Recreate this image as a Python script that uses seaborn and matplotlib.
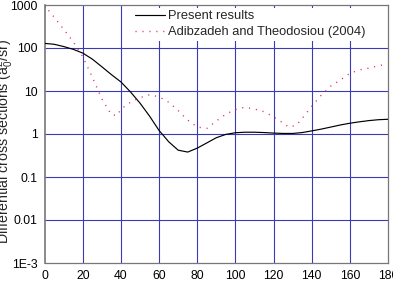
import matplotlib
matplotlib.use("Agg")
import matplotlib.pyplot as plt
import seaborn as sns
import numpy as np
import pandas as pd
from matplotlib.ticker import MultipleLocator, LogLocator, NullFormatter

# Data
present_angle = [0, 5, 10, 15, 20, 25, 30, 35, 40, 45, 50, 55, 60, 62, 65, 70, 75,
                 80, 85, 90, 95, 100, 105, 110, 115, 120, 125, 130, 135, 140, 145,
                 150, 155, 160, 165, 170, 175, 180]
present_dcs = [128, 122, 108, 93, 76, 55, 36.5, 24, 16.2, 9.5, 5.2, 2.6, 1.2, 0.95,
               0.66, 0.42, 0.38, 0.47, 0.62, 0.82, 0.98, 1.07, 1.1, 1.1, 1.08, 1.05,
               1.03, 1.03, 1.08, 1.18, 1.3, 1.45, 1.62, 1.78, 1.92, 2.05, 2.15, 2.2]

adib_angle = [2, 5, 10, 15, 20, 25, 30, 35, 38, 40, 45, 50, 55, 60, 65, 70, 75, 80,
              85, 90, 95, 100, 105, 110, 115, 120, 125, 128, 132, 135, 140, 145, 150,
              155, 160, 165, 170, 175, 178]
adib_dcs = [750, 520, 270, 140, 62, 21, 6.5, 2.8, 2.7, 3.8, 5.5, 7.0, 8.2, 7.3, 5.5,
            3.5, 2.1, 1.45, 1.35, 2.0, 2.9, 3.7, 4.2, 3.8, 3.3, 2.5, 1.8, 1.45, 1.6,
            2.3, 4.4, 8.0, 13, 18, 25.7, 31, 34, 38.6, 41]

xticks = [0, 20, 40, 60, 80, 100, 120, 140, 160, 180]
yticks = [1e-3, 1e-2, 1e-1, 1, 10, 100, 1000]
ytick_labels = ["1E-3", "0.01", "0.1", "1", "10", "100", "1000"]

label_present = "Present results"
label_adib = "Adibzadeh and Theodosiou (2004)"
ylabel = r"Differential cross sections (a$\mathregular{_0^2}$/sr)"

sns.set_style("white")
plt.rcParams['font.family'] = ['Liberation Sans', 'DejaVu Sans']
plt.rcParams['mathtext.fontset'] = 'custom'
plt.rcParams['mathtext.rm'] = 'Liberation Sans'

fig = plt.figure(figsize=(3.93, 2.91), dpi=100)
ax = fig.add_axes([44.7/393, 1-263/291, (388-44.7)/393, (263-5)/291])

df_p = pd.DataFrame({"angle": present_angle, "dcs": present_dcs})
df_a = pd.DataFrame({"angle": adib_angle, "dcs": adib_dcs})

sns.lineplot(data=df_p, x="angle", y="dcs", ax=ax, color="black", lw=0.85,
             label=label_present, zorder=4)
sns.lineplot(data=df_a, x="angle", y="dcs", ax=ax, color="#dd3355", lw=1.0,
             linestyle=(0, (0.8, 4.2)), label=label_adib, zorder=4)

ax.set_yscale("log")
ax.set_xlim(0, 180)
ax.set_ylim(1e-3, 1000)
ax.set_xticks(xticks)
ax.set_xticklabels([str(v) for v in xticks])
ax.xaxis.set_minor_locator(MultipleLocator(10))
ax.set_yticks(yticks)
ax.set_yticklabels(ytick_labels)
ax.yaxis.set_minor_locator(LogLocator(base=10, subs=np.arange(2, 10), numticks=20))
ax.yaxis.set_minor_formatter(NullFormatter())

gridc = "#3a3ab8"
for v in xticks[1:-1]:
    ax.axvline(v, color=gridc, lw=0.8, zorder=1)
for v in yticks[1:-1]:
    ax.axhline(v, color=gridc, lw=0.8, zorder=1)

ax.tick_params(axis="both", which="major", direction="out", length=3, width=0.8,
               color="#666666", labelsize=8.8, pad=2, labelcolor="black")
ax.tick_params(axis="both", which="minor", direction="out", length=2.2, width=0.6,
               color="#666666")
for s in ax.spines.values():
    s.set_color("#777777")
    s.set_linewidth(0.9)
ax.spines["left"].set_linewidth(1.2)

# inward ticks along the top edge
top = ax.secondary_xaxis("top")
top.set_xticks(xticks)
top.set_xticklabels([])
top.tick_params(direction="in", length=2, width=0.7, color="#777777")
top.spines["top"].set_visible(False)

ax.set_xlabel("")
ax.set_ylabel(ylabel, fontsize=10.2)
ax.yaxis.set_label_coords(-0.085, 0.471)

leg = ax.legend(loc="upper left", bbox_to_anchor=(0.255, 0.99), frameon=True,
                fontsize=9.3, handlelength=2.3, handletextpad=0.25,
                borderpad=0.2, labelspacing=0.32, borderaxespad=0.0)
leg.get_frame().set_edgecolor("none")
leg.get_frame().set_facecolor("white")
leg.get_frame().set_alpha(1)
leg.set_zorder(3)

fig.savefig("out.png", dpi=100)
